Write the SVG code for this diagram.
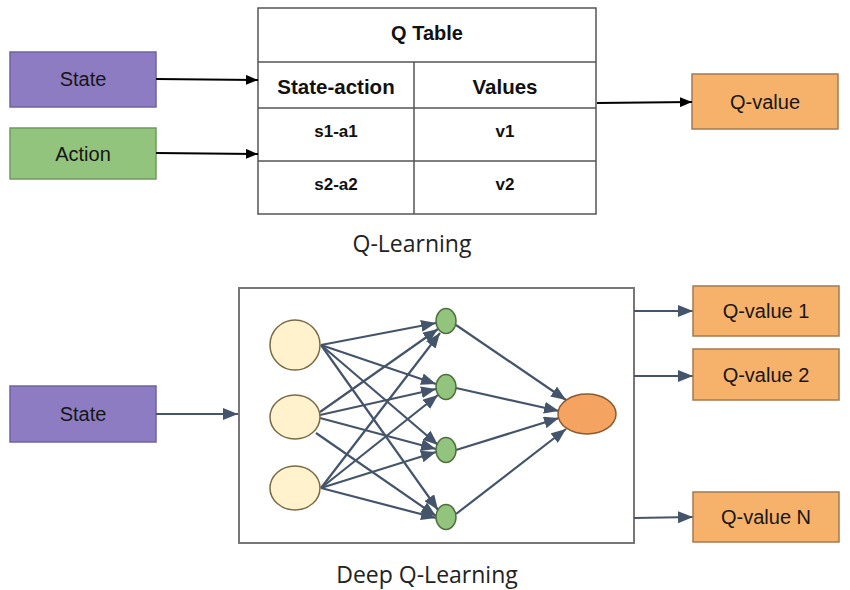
<svg xmlns="http://www.w3.org/2000/svg" width="850" height="590" viewBox="0 0 850 590">
<defs>
<style>
.lbl{font-family:"Liberation Sans",Arial,sans-serif;font-size:20px;fill:#161616;text-anchor:middle;dominant-baseline:central}
.tb{font-family:"Liberation Sans",Arial,sans-serif;font-weight:bold;fill:#111;text-anchor:middle;dominant-baseline:central}
.cap{font-family:"Open Sans","Noto Sans",sans-serif;font-size:23px;fill:#222;text-anchor:middle;dominant-baseline:central}
.purple{fill:#8e7cc3;stroke:#6f61a3;stroke-width:1.5}
.green{fill:#93c47d;stroke:#6f9a5c;stroke-width:1.5}
.orange{fill:#f6b26b;stroke:#a57a50;stroke-width:1.5}
.blk{stroke:#000;stroke-width:2;fill:none}
.sl{stroke:#44546a;stroke-width:2.2;fill:none}
.grid{stroke:#555;stroke-width:1.5;fill:none}
</style>
<marker id="ab" markerWidth="12" markerHeight="10" refX="12" refY="5" orient="auto" markerUnits="userSpaceOnUse">
<path d="M0,0 L12,5 L0,10 Z" fill="#000"/>
</marker>
<marker id="as" markerWidth="15" markerHeight="12" refX="15" refY="6" orient="auto" markerUnits="userSpaceOnUse">
<path d="M0,0 L15,6 L0,12 Z" fill="#44546a"/>
</marker>
</defs>
<rect width="850" height="590" fill="#fff"/>

<g id="state-top"><rect class="purple" x="10" y="52" width="146" height="55"/><text class="lbl" x="83" y="79">State</text></g>
<g id="action"><rect class="green" x="10" y="128" width="146" height="51"/><text class="lbl" x="83" y="154">Action</text></g>

<g id="qtable">
<rect class="grid" x="258" y="8" width="338" height="206"/>
<line class="grid" x1="258" y1="62" x2="596" y2="62"/>
<line class="grid" x1="258" y1="108" x2="596" y2="108"/>
<line class="grid" x1="258" y1="161" x2="596" y2="161"/>
<line class="grid" x1="414" y1="62" x2="414" y2="214"/>
<text class="tb" x="427" y="33" font-size="20">Q Table</text>
<text class="tb" x="336" y="86" font-size="20.5">State-action</text>
<text class="tb" x="505" y="86" font-size="20.5">Values</text>
<text class="tb" x="336" y="131" font-size="17">s1-a1</text>
<text class="tb" x="505" y="131" font-size="17">v1</text>
<text class="tb" x="336" y="184" font-size="17">s2-a2</text>
<text class="tb" x="505" y="184" font-size="17">v2</text>
</g>

<g id="qvalue"><rect class="orange" x="692" y="74" width="146" height="55"/><text class="lbl" x="765" y="102">Q-value</text></g>

<text class="cap" x="412" y="243">Q-Learning</text>

<g id="state-bottom"><rect class="purple" x="10" y="386" width="146" height="56"/><text class="lbl" x="83" y="414">State</text></g>

<g id="dqn">
<rect x="239" y="288" width="395" height="255" fill="#fff" stroke="#777" stroke-width="2"/>
</g>

<g id="connectors">
<line class="blk" x1="156" y1="79" x2="258" y2="80" marker-end="url(#ab)"/>
<line class="blk" x1="156" y1="153" x2="258" y2="154" marker-end="url(#ab)"/>
<line class="blk" x1="597" y1="103" x2="692" y2="102" marker-end="url(#ab)"/>
<line class="sl" x1="156" y1="414" x2="238" y2="414" marker-end="url(#as)"/>
<line class="sl" x1="634" y1="311" x2="693" y2="311" marker-end="url(#as)"/>
<line class="sl" x1="634" y1="376" x2="693" y2="376" marker-end="url(#as)"/>
<line class="sl" x1="634" y1="518" x2="693" y2="517" marker-end="url(#as)"/>
<!-- input 1 -->
<line class="sl" x1="321" y1="345" x2="436" y2="323" marker-end="url(#as)"/>
<line class="sl" x1="321" y1="345" x2="436" y2="384" marker-end="url(#as)"/>
<line class="sl" x1="321" y1="345" x2="438" y2="445" marker-end="url(#as)"/>
<line class="sl" x1="321" y1="345" x2="438" y2="510" marker-end="url(#as)"/>
<!-- input 2 -->
<line class="sl" x1="320" y1="412" x2="438" y2="329" marker-end="url(#as)"/>
<line class="sl" x1="320" y1="415" x2="436" y2="389" marker-end="url(#as)"/>
<line class="sl" x1="320" y1="418" x2="436" y2="449" marker-end="url(#as)"/>
<line class="sl" x1="316" y1="433" x2="436" y2="516" marker-end="url(#as)"/>
<!-- input 3 -->
<line class="sl" x1="321" y1="488" x2="440" y2="333" marker-end="url(#as)"/>
<line class="sl" x1="321" y1="488" x2="438" y2="395" marker-end="url(#as)"/>
<line class="sl" x1="321" y1="488" x2="436" y2="452" marker-end="url(#as)"/>
<line class="sl" x1="321" y1="488" x2="436" y2="518" marker-end="url(#as)"/>
<!-- hidden to output -->
<line class="sl" x1="456" y1="325" x2="566" y2="400" marker-end="url(#as)"/>
<line class="sl" x1="456" y1="388" x2="559" y2="411" marker-end="url(#as)"/>
<line class="sl" x1="456" y1="450" x2="559" y2="418" marker-end="url(#as)"/>
<line class="sl" x1="456" y1="514" x2="566" y2="429" marker-end="url(#as)"/>
</g>

<g id="input-layer">
<ellipse cx="295" cy="345" rx="25" ry="25" fill="#fff2cc" stroke="#7a6a45" stroke-width="1.5"/>
<ellipse cx="295" cy="417" rx="25" ry="22" fill="#fff2cc" stroke="#7a6a45" stroke-width="1.5"/>
<ellipse cx="295" cy="488" rx="25" ry="22" fill="#fff2cc" stroke="#7a6a45" stroke-width="1.5"/>
</g>
<g id="hidden-layer">
<ellipse cx="446" cy="321" rx="10" ry="12.5" fill="#93c47d" stroke="#4f6e3e" stroke-width="1.5"/>
<ellipse cx="446" cy="387" rx="10" ry="12.5" fill="#93c47d" stroke="#4f6e3e" stroke-width="1.5"/>
<ellipse cx="446" cy="450" rx="10" ry="12.5" fill="#93c47d" stroke="#4f6e3e" stroke-width="1.5"/>
<ellipse cx="446" cy="517" rx="10" ry="12.5" fill="#93c47d" stroke="#4f6e3e" stroke-width="1.5"/>
</g>
<g id="output-node">
<ellipse cx="587" cy="414" rx="29" ry="20" fill="#f4a460" stroke="#8a5a30" stroke-width="1.5"/>
</g>

<g id="qvalue1"><rect class="orange" x="693" y="286" width="146" height="50"/><text class="lbl" x="766" y="311">Q-value 1</text></g>
<g id="qvalue2"><rect class="orange" x="693" y="349" width="146" height="51"/><text class="lbl" x="766" y="375">Q-value 2</text></g>
<g id="qvalueN"><rect class="orange" x="693" y="492" width="146" height="50"/><text class="lbl" x="766" y="517">Q-value N</text></g>

<text class="cap" x="427" y="574">Deep Q-Learning</text>
</svg>
